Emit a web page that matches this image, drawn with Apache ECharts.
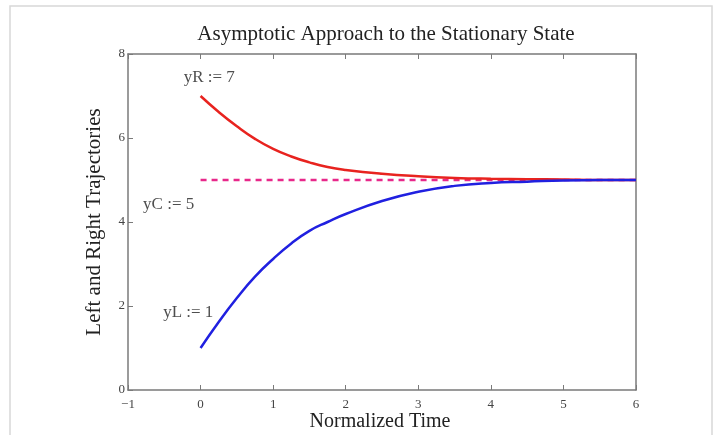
<!DOCTYPE html>
<html><head><meta charset="utf-8">
<script src="https://cdn.jsdelivr.net/npm/echarts@6/dist/echarts.min.js"></script>
<style>html,body{margin:0;padding:0;background:#fff}#c{width:717px;height:435px}</style>
</head><body><div id="c"></div>
<script>
const titleText = "Asymptotic Approach to the Stationary State";
const xName = "Normalized Time";
const yName = "Left and Right Trajectories";
const xTicks = [-1, 0, 1, 2, 3, 4, 5, 6];
const yTicks = [0, 2, 4, 6, 8];
const tRight = [0, 0.25, 0.5, 0.75, 1, 1.25, 1.5, 1.75, 2, 2.5, 3, 3.5, 4, 4.5, 5, 5.5, 6];
const yRight = [7.0, 6.62, 6.28, 5.98, 5.74, 5.56, 5.42, 5.31, 5.24, 5.15, 5.09, 5.05, 5.03, 5.02, 5.01, 5.0, 5.0];
const tLeft = [0, 0.25, 0.5, 0.75, 1, 1.25, 1.5, 1.75, 2, 2.5, 3, 3.5, 4, 4.5, 5, 5.5, 6];
const yLeft = [1.0, 1.62, 2.19, 2.70, 3.12, 3.49, 3.79, 4.0, 4.19, 4.50, 4.72, 4.86, 4.93, 4.96, 4.99, 5.0, 5.0];
const tCenter = [0, 6];
const yCenter = [5, 5];
const labels = [
  {text: "yR := 7", x: 0.12, y: 7.45},
  {text: "yC := 5", x: -0.44, y: 4.42},
  {text: "yL := 1", x: -0.17, y: 1.84}
];

const chart = echarts.init(document.getElementById('c'));
const serif = '"Liberation Serif","Times New Roman",serif';
const frame = '#7a7a7a';
chart.setOption({
  backgroundColor: '#fff',
  animation: false,
  title: [
    {text: titleText, left: 381, top: 19, textAlign: 'center',
     textStyle: {fontFamily: serif, fontSize: 21, fontWeight: 'normal', color: '#222'}},
    {text: xName, left: 380, top: 412, textAlign: 'center', padding: 0,
     textStyle: {fontFamily: serif, fontSize: 20, fontWeight: 'normal', color: '#222'}}
  ],
  grid: {left: 128, right: 81, top: 54, bottom: 45, containLabel: false, outerBoundsMode: 'none'},
  xAxis: [{
    type: 'value', min: xTicks[0], max: xTicks[xTicks.length-1], interval: 1,
    axisLine: {onZero: false, lineStyle: {color: frame, width: 1.5}},
    axisTick: {inside: true, length: 5, lineStyle: {color: frame}},
    axisLabel: {fontFamily: serif, fontSize: 13, color: '#444', margin: 8,
      formatter: v => v < 0 ? '\u2212' + Math.abs(v) : String(v)},
    splitLine: {show: false}
  }, {
    type: 'value', position: 'top', min: xTicks[0], max: xTicks[xTicks.length-1], interval: 1,
    axisLine: {onZero: false, lineStyle: {color: frame, width: 1.5}},
    axisTick: {inside: true, length: 5, lineStyle: {color: frame}},
    axisLabel: {show: false}, splitLine: {show: false}
  }],
  yAxis: [{
    type: 'value', min: yTicks[0], max: yTicks[yTicks.length-1], interval: 2,
    name: yName, nameLocation: 'middle', nameGap: 23, nameRotate: 90,
    nameTextStyle: {fontFamily: serif, fontSize: 21, color: '#222'},
    axisLine: {show: true, onZero: false, lineStyle: {color: frame, width: 1.5}},
    axisTick: {show: true, inside: true, length: 5, lineStyle: {color: frame}},
    axisLabel: {fontFamily: serif, fontSize: 13, color: '#444', margin: 3},
    splitLine: {show: false}
  }, {
    type: 'value', position: 'right', min: 0, max: 8, interval: 2,
    axisLine: {show: true, onZero: false, lineStyle: {color: frame, width: 1.5}},
    axisTick: {show: false}, axisLabel: {show: false}, splitLine: {show: false}
  }],
  series: [
    {type: 'line', data: tCenter.map((t,i)=>[t, yCenter[i]]), showSymbol: false,
     lineStyle: {color: '#e8288a', width: 2.5, type: [6, 5]}},
    {type: 'line', data: tRight.map((t,i)=>[t, yRight[i]]), smooth: 0.5, showSymbol: false,
     lineStyle: {color: '#e8231f', width: 2.5}},
    {type: 'line', data: tLeft.map((t,i)=>[t, yLeft[i]]), smooth: 0.5, showSymbol: false,
     lineStyle: {color: '#2020e0', width: 2.5}},
    {type: 'scatter', data: labels.map(l=>[l.x, l.y, l.text]), symbolSize: 0,
     label: {show: true, position: 'inside', formatter: p => p.data[2],
       fontFamily: serif, fontSize: 17, color: '#222'}}
  ],
  graphic: [{type: 'rect', shape: {x: 10, y: 6, width: 702, height: 440},
    style: {fill: 'none', stroke: '#d8d8d8', lineWidth: 1.5}, silent: true}]
});
</script></body></html>
